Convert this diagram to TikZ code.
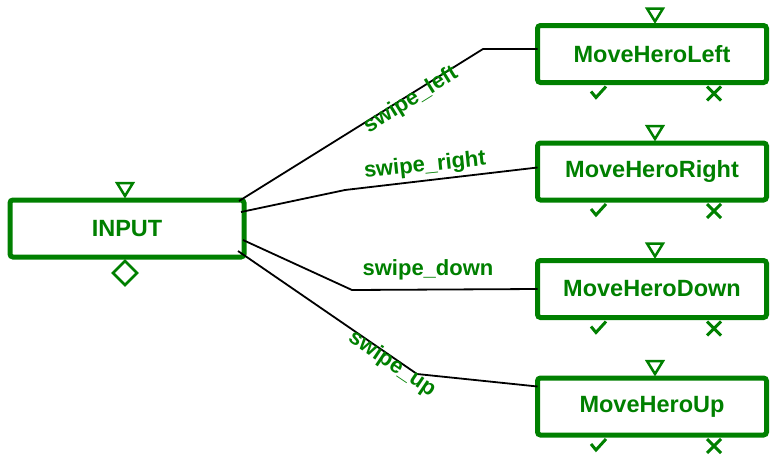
\documentclass[tikz,border=0pt]{standalone}
\usepackage{fontspec}
\setmainfont{Liberation Sans}
\usetikzlibrary{calc}
\definecolor{gg}{RGB}{0,128,0}
\tikzset{
  mbox/.style={draw=gg, line width=5pt, rounded corners=3pt, minimum width=229pt, minimum height=57pt,
    inner sep=0pt, outer sep=0pt, fill=white, text=gg, font=\fontsize{23.5}{27}\selectfont\bfseries},
  wire/.style={draw=black, line width=1.8pt},
  lbl/.style={text=gg, font=\fontsize{22}{26}\selectfont\bfseries, inner sep=0pt},
  tri/.pic={\draw[gg, line width=2.5pt, line join=miter] (-8,-17) -- (8,-17) -- (0,-4) -- cycle;},
  dia/.pic={\draw[gg, line width=2.5pt] (0,4) -- (12,16) -- (0,28) -- (-12,16) -- cycle;},
  chk/.pic={\draw[gg, line width=3pt] (-7,-2) -- (-2,4) -- (8,-7);},
  crs/.pic={\draw[gg, line width=3pt] (-7,-7) -- (7,7) (-7,7) -- (7,-7);}
}
\begin{document}
\begin{tikzpicture}[x=1pt,y=-1pt]
\useasboundingbox (0,0) rectangle (771,455);

% input box
\node[mbox, minimum width=234pt] (in) at (127,228.5) {INPUT};
\pic at (125,200) {tri};
\pic at (125,257) {dia};

% right boxes
\node[mbox] (b1) at (652,54) {MoveHeroLeft};
\node[mbox] (b2) at (652,171.5) {MoveHeroRight};
\node[mbox] (b3) at (652,289) {MoveHeroDown};
\node[mbox] (b4) at (652,406.5) {MoveHeroUp};

\foreach \b in {b1,b2,b3,b4}{
  \pic at ($(\b.north)+(3,0)$) {tri};
  \pic at ($(\b.south)+(-54,11)$) {chk};
  \pic at ($(\b.south)+(62,11)$) {crs};
}

% connector ports and bends
\coordinate (s1) at (239,201);
\coordinate (s2) at (241,212);
\coordinate (s3) at (243,240);
\coordinate (s4) at (238,251);
\coordinate (k1) at (483,49);
\coordinate (k2) at (345,190);
\coordinate (k3) at (352,290);
\coordinate (k4) at (417,374);

\draw[wire] (s1) -- (k1) -- (k1 -| b1.west);
\draw[wire] (s2) -- (k2) -- ($(b2.west)+(0,-4)$);
\draw[wire] (s3) -- (k3) -- (b3.west);
\draw[wire] (s4) -- (k4) -- ($(b4.west)+(0,-20)$);

\node[lbl, rotate=32] (l1) at (411,100) {swipe\_left};
\node[lbl, rotate=6] (l2) at (425,166) {swipe\_right};
\node[lbl] (l3) at (428,270) {swipe\_down};
\node[lbl, rotate=-34] (l4) at (392,364) {swipe\_up};
\end{tikzpicture}
\end{document}
